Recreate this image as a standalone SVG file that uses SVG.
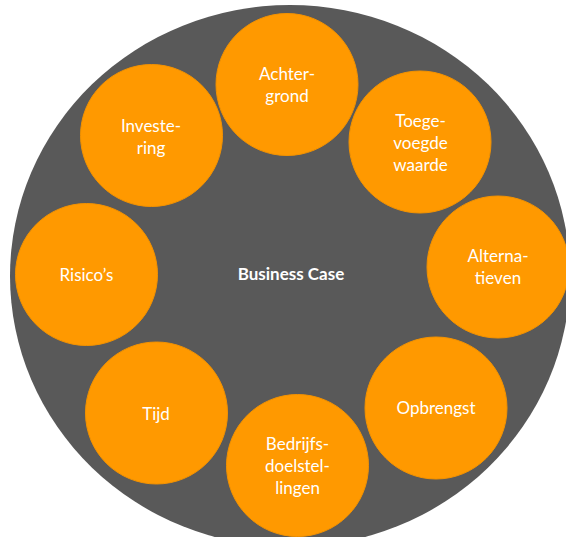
<svg xmlns="http://www.w3.org/2000/svg" width="566" height="537" viewBox="0 0 566 537">
  <style>
    .node { fill: #FF9900; stroke: #F39200; stroke-width: 1; }
    .lbl { fill: #FFFFFF; font-family: Lato, "Open Sans", "Liberation Sans", sans-serif; font-size: 17px; text-anchor: middle; }
    .title { fill: #FFFFFF; font-family: Lato, "Open Sans", "Liberation Sans", sans-serif; font-size: 17px; font-weight: bold; text-anchor: middle; }
  </style>
  <rect x="0" y="0" width="566" height="537" fill="#FFFFFF"/>
  <g id="business-case">
    <ellipse cx="290" cy="276" rx="280" ry="271" fill="#595959"/>
    <text class="title" x="291" y="280">Business Case</text>
  </g>
  <g id="achtergrond">
    <circle class="node" cx="287" cy="84.5" r="71"/>
    <text class="lbl" x="287" y="80">Achter-</text>
    <text class="lbl" x="287" y="102">grond</text>
  </g>
  <g id="investering">
    <circle class="node" cx="151.5" cy="135.5" r="71"/>
    <text class="lbl" x="151" y="132">Investe-</text>
    <text class="lbl" x="151" y="154">ring</text>
  </g>
  <g id="toegevoegde-waarde">
    <circle class="node" cx="420" cy="142" r="71"/>
    <text class="lbl" x="420.5" y="127">Toege-</text>
    <text class="lbl" x="420.5" y="149">voegde</text>
    <text class="lbl" x="420.5" y="171">waarde</text>
  </g>
  <g id="risicos">
    <circle class="node" cx="86.5" cy="274.5" r="71"/>
    <text class="lbl" x="86.5" y="281">Risico’s</text>
  </g>
  <g id="alternatieven">
    <circle class="node" cx="498" cy="267" r="71"/>
    <text class="lbl" x="498" y="262">Alterna-</text>
    <text class="lbl" x="498" y="284">tieven</text>
  </g>
  <g id="opbrengst">
    <circle class="node" cx="436" cy="408" r="71"/>
    <text class="lbl" x="436" y="414">Opbrengst</text>
  </g>
  <g id="bedrijfsdoelstellingen">
    <circle class="node" cx="297.5" cy="465.5" r="71"/>
    <text class="lbl" x="297.5" y="450">Bedrijfs-</text>
    <text class="lbl" x="297.5" y="472">doelstel-</text>
    <text class="lbl" x="297.5" y="494">lingen</text>
  </g>
  <g id="tijd">
    <circle class="node" cx="156.5" cy="413" r="71"/>
    <text class="lbl" x="156" y="419.5">Tijd</text>
  </g>
  <g id="connectors"></g>
</svg>
